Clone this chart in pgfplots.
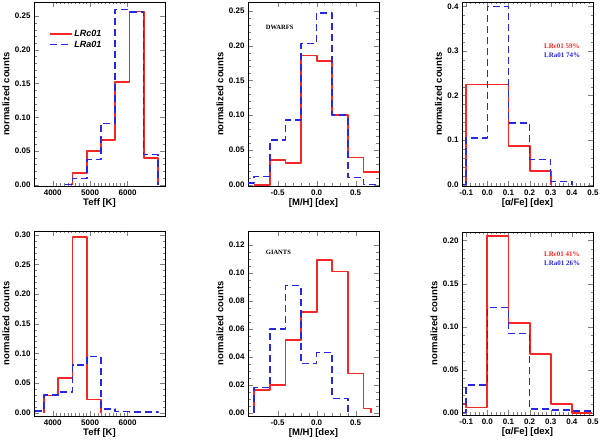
\documentclass[border=0pt]{standalone}
\usepackage{fontspec}
\setmainfont{Liberation Sans}
\newfontfamily\serifbf{Liberation Serif}
\usepackage{pgfplots}
\pgfplotsset{compat=1.18}
\definecolor{hred}{rgb}{0.96,0.15,0.15}
\definecolor{hblue}{rgb}{0.15,0.15,0.90}
\pgfplotsset{
 idl/.style={
  scale only axis, width=131pt, height=184pt, anchor=south west,
  clip=false,
  axis line style={line width=0.7pt},
  tick align=inside, xtick pos=both, ytick pos=both,
  major tick length=5pt, minor tick length=2.5pt,
  tick label style={font=\fontsize{8}{9}\selectfont\bfseries},
  label style={font=\fontsize{9.5}{10}\selectfont\bfseries},
  /pgf/number format/assume math mode=true,
  /pgf/number format/1000 sep={},
  scaled ticks=false,
  ylabel={normalized counts},
  xlabel style={yshift=3pt},
  ylabel style={yshift=-1.5pt},
 },
 yfmt/.style={yticklabel style={/pgf/number format/.cd, fixed, fixed zerofill, precision=#1}},
 xfmt/.style={xticklabel style={/pgf/number format/.cd, fixed, fixed zerofill, precision=#1}},
 rh/.style={color=hred, line width=1.8pt, mark=none, line join=round},
 bh/.style={color=hblue, line width=1.5pt, dash pattern=on 7pt off 4pt, mark=none, line join=round},
}
\begin{document}
\begin{tikzpicture}[x=1pt,y=1pt]
\useasboundingbox (0,0) rectangle (600,441);
% ---------- Panel 1: dwarfs Teff
\begin{axis}[idl, at={(34pt,255pt)},
  xmin=3500, xmax=7000, ymin=-0.002, ymax=0.271,
  xtick={4000,5000,6000}, minor x tick num=9,
  ytick={0,0.05,0.10,0.15,0.20,0.25}, minor y tick num=4, yfmt=2,
  xlabel={Teff [K]},
  legend style={at={(0.11,0.86)}, anchor=north west, draw=none, fill=none,
    font=\fontsize{9}{9}\selectfont\bfseries\itshape, row sep=-1pt, inner sep=0pt,
    legend cell align=left},
  legend image code/.code={\draw[#1] (0pt,0pt) -- (22pt,0pt);},
  ]
\addplot[rh] coordinates {(4530,0)(4530,0.017)(4910,0.017)(4910,0.050)(5290,0.050)(5290,0.066)(5670,0.066)(5670,0.152)(6050,0.152)(6050,0.257)(6430,0.257)(6430,0.039)(6810,0.039)(6810,0)};
\addlegendentry{LRc01}
\addplot[bh] coordinates {(4340,0)(4530,0)(4530,0.009)(4910,0.009)(4910,0.037)(5290,0.037)(5290,0.091)(5670,0.091)(5670,0.260)(6050,0.260)(6050,0.256)(6430,0.256)(6430,0.045)(6810,0.045)(6810,0)};
\addlegendentry{LRa01}
\end{axis}
% ---------- Panel 2: dwarfs [M/H]
\begin{axis}[idl, at={(248pt,255pt)},
  xmin=-0.88, xmax=0.8, ymin=-0.002, ymax=0.263,
  xtick={-0.5,0,0.5}, minor x tick num=4, xfmt=1,
  ytick={0,0.05,0.10,0.15,0.20,0.25}, minor y tick num=4, yfmt=2,
  xlabel={[M/H] [dex]},
  ]
\addplot[rh] coordinates {(-0.8,0)(-0.6,0)(-0.6,0.035)(-0.4,0.035)(-0.4,0.031)(-0.2,0.031)(-0.2,0.186)(0,0.186)(0,0.178)(0.2,0.178)(0.2,0.100)(0.4,0.100)(0.4,0.039)(0.6,0.039)(0.6,0.018)(0.8,0.018)};
\addplot[bh] coordinates {(-0.875,0.002)(-0.8,0.002)(-0.8,0.012)(-0.6,0.012)(-0.6,0.064)(-0.4,0.064)(-0.4,0.093)(-0.2,0.093)(-0.2,0.203)(0,0.203)(0,0.247)(0.2,0.247)(0.2,0.100)(0.4,0.100)(0.4,0.010)(0.6,0.010)(0.6,0)(0.8,0)};
\node[anchor=west, font=\serifbf\fontsize{6.5}{7}\selectfont\bfseries] at (rel axis cs:0.11,0.86) {DWARFS};
\end{axis}
% ---------- Panel 3: dwarfs [alpha/Fe]
\begin{axis}[idl, at={(462pt,255pt)},
  xmin=-0.12, xmax=0.5, ymin=-0.003, ymax=0.41,
  xtick={-0.1,0,0.1,0.2,0.3,0.4,0.5}, minor x tick num=4, xfmt=1,
  ytick={0,0.1,0.2,0.3,0.4}, minor y tick num=4, yfmt=1,
  xlabel={[α/Fe] [dex]},
  ]
\addplot[rh] coordinates {(-0.1,0)(-0.1,0.225)(0.1,0.225)(0.1,0.087)(0.2,0.087)(0.2,0.030)(0.3,0.030)(0.3,0)};
\addplot[bh] coordinates {(-0.117,0)(-0.1,0)(-0.1,0.105)(0,0.105)(0,0.400)(0.1,0.400)(0.1,0.138)(0.2,0.138)(0.2,0.057)(0.3,0.057)(0.3,0.007)(0.4,0.007)(0.4,0)};
\node[anchor=west, text=hred, font=\serifbf\fontsize{7}{7}\selectfont\bfseries] at (rel axis cs:0.6,0.76) {LRc01 59\%};
\node[anchor=west, text=hblue, font=\serifbf\fontsize{7}{7}\selectfont\bfseries] at (rel axis cs:0.6,0.71) {LRa01 74\%};
\end{axis}
% ---------- Panel 4: giants Teff
\begin{axis}[idl, at={(34pt,25pt)}, height=185pt,
  xmin=3500, xmax=7000, ymin=-0.0057, ymax=0.3067,
  xtick={4000,5000,6000}, minor x tick num=9,
  ytick={0,0.05,0.10,0.15,0.20,0.25,0.30}, minor y tick num=4, yfmt=2,
  xlabel={Teff [K]},
  ]
\addplot[rh] coordinates {(3770,0)(3770,0.029)(4150,0.029)(4150,0.059)(4530,0.059)(4530,0.296)(4910,0.296)(4910,0.022)(5290,0.022)(5290,0)};
\addplot[bh] coordinates {(3520,0.003)(3770,0.003)(3770,0.030)(4150,0.030)(4150,0.035)(4530,0.035)(4530,0.080)(4910,0.080)(4910,0.095)(5290,0.095)(5290,0.006)(5670,0.006)(5670,0.002)(6050,0.002)(6050,0.001)(6810,0.001)(6810,0)};
\end{axis}
% ---------- Panel 5: giants [M/H]
\begin{axis}[idl, at={(248pt,25pt)}, height=185pt,
  xmin=-0.88, xmax=0.8, ymin=-0.0024, ymax=0.130,
  xtick={-0.5,0,0.5}, minor x tick num=4, xfmt=1,
  ytick={0,0.02,0.04,0.06,0.08,0.10,0.12}, minor y tick num=3, yfmt=2,
  xlabel={[M/H] [dex]},
  ]
\addplot[rh] coordinates {(-0.8,0)(-0.8,0.016)(-0.6,0.016)(-0.6,0.020)(-0.4,0.020)(-0.4,0.052)(-0.2,0.052)(-0.2,0.072)(0,0.072)(0,0.109)(0.2,0.109)(0.2,0.101)(0.4,0.101)(0.4,0.028)(0.6,0.028)(0.6,0.003)(0.7,0.003)(0.7,0)};
\addplot[bh] coordinates {(-0.8,0)(-0.8,0.018)(-0.6,0.018)(-0.6,0.060)(-0.4,0.060)(-0.4,0.091)(-0.2,0.091)(-0.2,0.035)(0,0.035)(0,0.043)(0.2,0.043)(0.2,0.010)(0.4,0.010)(0.4,0)};
\node[anchor=west, font=\serifbf\fontsize{6.5}{7}\selectfont\bfseries] at (rel axis cs:0.11,0.885) {GIANTS};
\end{axis}
% ---------- Panel 6: giants [alpha/Fe]
\begin{axis}[idl, at={(462pt,26pt)}, height=183pt,
  xmin=-0.12, xmax=0.5, ymin=-0.0027, ymax=0.21,
  xtick={-0.1,0,0.1,0.2,0.3,0.4,0.5}, minor x tick num=4, xfmt=1,
  ytick={0,0.05,0.10,0.15,0.20}, minor y tick num=4, yfmt=2,
  xlabel={[α/Fe] [dex]},
  ]
\addplot[rh] coordinates {(-0.117,0.010)(-0.1,0.010)(-0.1,0.006)(0,0.006)(0,0.205)(0.1,0.205)(0.1,0.104)(0.2,0.104)(0.2,0.068)(0.3,0.068)(0.3,0.010)(0.4,0.010)(0.4,0)(0.495,0)};
\addplot[bh] coordinates {(-0.117,0)(-0.1,0)(-0.1,0.032)(0,0.032)(0,0.122)(0.1,0.122)(0.1,0.092)(0.2,0.092)(0.2,0.004)(0.3,0.004)(0.3,0.003)(0.4,0.003)(0.4,0.002)(0.495,0.002)};
\node[anchor=west, text=hred, font=\serifbf\fontsize{7}{7}\selectfont\bfseries] at (rel axis cs:0.6,0.88) {LRc01 41\%};
\node[anchor=west, text=hblue, font=\serifbf\fontsize{7}{7}\selectfont\bfseries] at (rel axis cs:0.6,0.83) {LRa01 26\%};
\end{axis}
\end{tikzpicture}
\end{document}
